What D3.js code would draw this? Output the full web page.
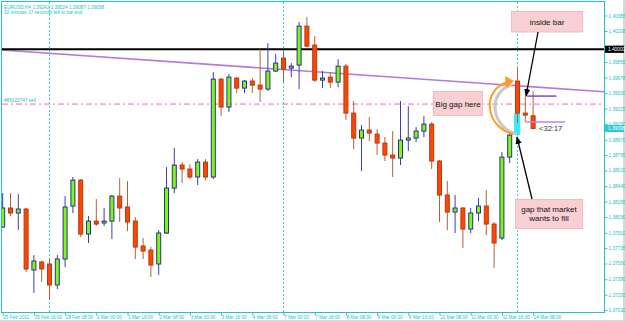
<!DOCTYPE html>
<html><head><meta charset="utf-8">
<script src="https://cdn.jsdelivr.net/npm/d3@7"></script>
<style>html,body{margin:0;padding:0;background:#fff;overflow:hidden}</style>
</head><body>
<svg id="c" width="625" height="322"></svg>
<script>
// ---------- DATA ----------
const symbolInfo = "EURUSD,H4 1.39242 1.39524 1.39087 1.39098";
const timerInfo = "32 minutes 17 seconds left to bar end";
const opens  = [1.37975,1.38192,1.38135,1.38180,1.37486,1.37577,1.37554,1.37315,1.37611,1.38214,
                1.38510,1.37895,1.38043,1.38021,1.38043,1.38328,1.38203,1.38043,1.37759,1.37713,
                1.37554,1.37907,1.38419,1.38681,1.38636,1.38545,1.38715,1.38545,1.39660,1.39342,
                1.39672,1.39558,1.39638,1.39592,1.39547,1.39752,1.39900,1.39786,1.39820,1.40264,
                1.40048,1.39649,1.39683,1.39626,1.39808,1.39273,1.38989,1.39080,1.39034,1.38932,
                1.38795,1.38761,1.38966,1.38989,1.39068,1.39148,1.38727,1.38340,1.38146,1.38192,
                1.37952,1.38135,1.38214,1.38009,1.37850,1.38772,1.39638,1.39273,1.39242];
const highs  = [1.38362,1.38362,1.38351,1.38192,1.37656,1.37588,1.37611,1.37656,1.38328,1.38545,
                1.38522,1.38100,1.38294,1.38192,1.38340,1.38533,1.38499,1.38089,1.37850,1.37747,
                1.37941,1.38658,1.38875,1.38715,1.38693,1.38749,1.38749,1.39740,1.39672,1.39717,
                1.39683,1.39649,1.39672,1.40002,1.40070,1.39945,1.39979,1.39843,1.40310,1.40366,
                1.40150,1.39752,1.39740,1.39888,1.39831,1.39410,1.39137,1.39228,1.39091,1.39000,
                1.39068,1.39410,1.39353,1.39114,1.39239,1.39171,1.38738,1.38499,1.38340,1.38203,
                1.38192,1.38305,1.38396,1.38032,1.38829,1.39034,1.39786,1.39467,1.39524];
const lows   = [1.37964,1.38100,1.37941,1.37463,1.37224,1.37349,1.37144,1.37269,1.37520,1.38135,
                1.37861,1.37793,1.37987,1.37987,1.37839,1.38032,1.37930,1.37611,1.37611,1.37406,
                1.37429,1.37895,1.38362,1.38476,1.38522,1.38453,1.38510,1.38522,1.39239,1.39285,
                1.39501,1.39501,1.39501,1.39399,1.39524,1.39740,1.39626,1.39683,1.39547,1.40025,
                1.39626,1.39558,1.39558,1.39569,1.39194,1.38863,1.38613,1.38954,1.38795,1.38727,
                1.38545,1.38681,1.38841,1.38943,1.39000,1.38636,1.38032,1.37941,1.37907,1.37736,
                1.37907,1.38043,1.37884,1.37508,1.37827,1.38704,1.39159,1.39171,1.39087];
const closes = [1.38192,1.38135,1.38180,1.37497,1.37588,1.37497,1.37315,1.37611,1.38203,1.38510,
                1.37895,1.38043,1.38009,1.38043,1.38328,1.38192,1.38032,1.37747,1.37702,1.37542,
                1.37907,1.38419,1.38681,1.38636,1.38545,1.38715,1.38545,1.39660,1.39342,1.39683,
                1.39558,1.39638,1.39592,1.39547,1.39752,1.39843,1.39774,1.39808,1.40264,1.40036,
                1.39649,1.39672,1.39626,1.39808,1.39273,1.38989,1.39080,1.39046,1.38932,1.38795,
                1.38761,1.38966,1.38989,1.39068,1.39148,1.38727,1.38340,1.38146,1.38192,1.37952,
                1.38135,1.38214,1.38009,1.37793,1.38772,1.39023,1.39273,1.39250,1.39098];
const priceTicks = [1.40385,1.40208,1.40030,1.39855,1.39678,1.39500,1.39325,1.39150,1.38970,1.38795,
                    1.38620,1.38440,1.38265,1.38090,1.37910,1.37735,1.37560,1.37380,1.37205,1.37030];
const timeTickIdx = [0,4,8,12,16,20,24,28,32,36,40,44,48,52,56,60,64,68];
const timeTickLabels = ["25 Feb 2011","25 Feb 16:00","28 Feb 08:00","1 Mar 00:00","1 Mar 16:00",
  "2 Mar 08:00","3 Mar 00:00","3 Mar 16:00","4 Mar 08:00","7 Mar 00:00","7 Mar 16:00","8 Mar 08:00",
  "9 Mar 00:00","9 Mar 16:00","10 Mar 08:00","11 Mar 00:00","11 Mar 16:00","14 Mar 08:00"];
const weekStartIdx = [6,36,66];
const roundLevel = 1.40000;
const sellLevel = 1.39376;
const sellLabel = "#83123747 sell";
const currentPrice = 1.39098;
const trendBars = [0,68];
const trendPrices = [1.39991,1.39572];
const gapZone = [1.39023,1.39273];
const upperMark = 1.39467, lowerMark = 1.39171;
const timerShort = "<32:17";

// ---------- LAYOUT ----------
const L=2, R=604, T=2, B=312;
const svg = d3.select("#c");
const x = d3.scaleLinear().domain([0,68]).range([2.7,533.1]);
const y = d3.scaleLinear().domain([1.37030,1.40385]).range([310,15.5]);
const axisCol = "#22c2ca";
const font = "Liberation Sans, Arial, sans-serif";

svg.append("rect").attr("width",625).attr("height",322).attr("fill","#fff");
svg.append("rect").attr("x",623).attr("y",0).attr("width",2).attr("height",322).attr("fill","#d8d8d8");
svg.append("rect").attr("x",0).attr("y",320).attr("width",625).attr("height",2).attr("fill","#d8d8d8");

const defs = svg.append("defs");
defs.append("clipPath").attr("id","pc").append("rect")
  .attr("x",L).attr("y",T).attr("width",R-L).attr("height",B-T);
defs.append("marker").attr("id","ah").attr("viewBox","0 0 10 10").attr("refX",9).attr("refY",5)
  .attr("markerWidth",6).attr("markerHeight",6).attr("orient","auto")
  .append("path").attr("d","M0,1 L10,5 L0,9 z").attr("fill","#000");
const g = svg.append("g").attr("clip-path","url(#pc)");

// week separators
g.selectAll(".sep").data(weekStartIdx).join("line")
  .attr("x1",d=>x(d)).attr("x2",d=>x(d)).attr("y1",T).attr("y2",B)
  .attr("stroke","#3ccfd6").attr("stroke-width",1).attr("stroke-dasharray","2,2");

// trend line
const tSlope = (trendPrices[1]-trendPrices[0])/(trendBars[1]-trendBars[0]);
const tAt = b => trendPrices[0] + tSlope*(b-trendBars[0]);
const b0 = x.invert(L), b1 = x.invert(R);
g.append("line").attr("x1",L).attr("y1",y(tAt(b0))).attr("x2",R).attr("y2",y(tAt(b1)))
  .attr("stroke","#b676e2").attr("stroke-width",1.6);

// round level line
g.append("line").attr("x1",L).attr("x2",R).attr("y1",y(roundLevel)).attr("y2",y(roundLevel))
  .attr("stroke","#000").attr("stroke-width",2);
// sell line
g.append("line").attr("x1",L).attr("x2",R).attr("y1",y(sellLevel)).attr("y2",y(sellLevel))
  .attr("stroke","#ff5ec4").attr("stroke-width",1).attr("stroke-dasharray","6,3,2,3");

// gap zone
g.append("rect").attr("x",x(66)-3.5).attr("width",6)
  .attr("y",y(gapZone[1])).attr("height",y(gapZone[0])-y(gapZone[1]))
  .attr("fill","#33f0f8");

// candles
const bars = opens.map((o,i)=>({i,o,h:highs[i],l:lows[i],c:closes[i]}));
const cg = g.append("g");
cg.selectAll(".wick").data(bars).join("line")
  .attr("x1",d=>x(d.i)).attr("x2",d=>x(d.i)).attr("y1",d=>y(d.h)).attr("y2",d=>y(d.l))
  .attr("stroke",d=>d.c>=d.o?"#3b3bb2":"#a9643e").attr("stroke-width",1);
cg.selectAll(".body").data(bars).join("rect")
  .attr("x",d=>x(d.i)-2).attr("width",4)
  .attr("y",d=>y(Math.max(d.o,d.c)))
  .attr("height",d=>Math.max(1,Math.abs(y(d.o)-y(d.c))))
  .attr("fill",d=>d.c>=d.o?"#7cfc00":"#ff4500")
  .attr("stroke",d=>d.c>=d.o?"#2a2aa8":"#b83a10").attr("stroke-width",1);

// short marks near current bar
g.append("line").attr("x1",x(67.2)).attr("x2",x(71)).attr("y1",y(upperMark)).attr("y2",y(upperMark))
  .attr("stroke","#7a10c0").attr("stroke-width",1.2);
g.append("line").attr("x1",x(67.1)).attr("x2",x(72.1)).attr("y1",y(lowerMark)).attr("y2",y(lowerMark))
  .attr("stroke","#b888e8").attr("stroke-width",1.4);
g.append("text").attr("x",x(68)+6).attr("y",y(currentPrice)+2.6).text(timerShort)
  .attr("font-family",font).attr("font-size",7.5).attr("fill","#333");

// orange curved arrow
g.append("path").attr("d","M516,134 C492,128 486,92 512,85")
  .attr("fill","none").attr("stroke","#c8c8c8").attr("stroke-width",3);
g.append("path").attr("d","M513,134 C486,128 480,90 508,82")
  .attr("fill","none").attr("stroke","#ff9a1a").attr("stroke-width",2);
g.append("polygon").attr("points","514,81 505,76 506,88").attr("fill","#ff9a1a");

// text boxes
function box(x0,y0,w,h,lines,cx,baselines){
  g.append("rect").attr("x",x0).attr("y",y0).attr("width",w).attr("height",h)
    .attr("fill","#f8cfd2").attr("stroke","#f0bcc2").attr("stroke-width",1);
  lines.forEach((t,k)=>g.append("text").attr("x",cx).attr("y",baselines[k]).text(t)
    .attr("text-anchor","middle").attr("font-family",font).attr("font-size",8).attr("fill","#111"));
}
box(433.5,91.5,49,24,["Big gap here"],458,[106.5]);
box(511.5,11.5,71,20.5,["inside bar"],547,[24.5]);
box(515.5,199.5,67,29,["gap that market","wants to fill"],549,[212,221]);

// black arrows
g.append("line").attr("x1",538).attr("y1",32).attr("x2",526).attr("y2",96)
  .attr("stroke","#000").attr("stroke-width",1.3).attr("marker-end","url(#ah)");
g.append("line").attr("x1",532).attr("y1",199).attr("x2",517).attr("y2",137)
  .attr("stroke","#000").attr("stroke-width",1.3).attr("marker-end","url(#ah)");

// info texts
const tiny = 4.7;
g.append("text").attr("x",4).attr("y",8.5).text(symbolInfo)
  .attr("font-family",font).attr("font-size",tiny).attr("fill",axisCol);
g.append("text").attr("x",4).attr("y",14).text(timerInfo)
  .attr("font-family",font).attr("font-size",tiny).attr("fill",axisCol);
g.append("text").attr("x",4).attr("y",y(sellLevel)-2.3).text(sellLabel)
  .attr("font-family",font).attr("font-size",tiny).attr("fill",axisCol);

// frame
svg.append("rect").attr("x",L-0.5).attr("y",T-0.5).attr("width",R-L+1).attr("height",B-T+1)
  .attr("fill","none").attr("stroke",axisCol).attr("stroke-width",1);

// price axis
const ya = svg.append("g").attr("transform",`translate(${R+0.5},0)`)
  .call(d3.axisRight(y).tickValues(priceTicks).tickFormat(d3.format(".5f")).tickSize(3));
ya.select(".domain").remove();
ya.selectAll("line").attr("stroke",axisCol);
ya.selectAll("text").attr("x",4).attr("font-family",font).attr("font-size",tiny).attr("fill",axisCol);

// time axis
const xa = svg.append("g").attr("transform",`translate(0,${B+0.5})`)
  .call(d3.axisBottom(x).tickValues(timeTickIdx).tickFormat((d,i)=>timeTickLabels[i]).tickSize(3));
xa.select(".domain").remove();
xa.selectAll("line").attr("stroke",axisCol);
xa.selectAll("text").attr("text-anchor","start").attr("x",0).attr("y",6.3).attr("dy",0)
  .attr("font-family",font).attr("font-size",tiny).attr("fill",axisCol);

// price labels on the axis
function tag(p,txt,bg,fg){
  const yy=y(p);
  svg.append("rect").attr("x",R+1).attr("y",yy-3.6).attr("width",19).attr("height",7.2).attr("fill",bg);
  svg.append("text").attr("x",R+4).attr("y",yy+1.7).text(txt)
    .attr("font-family",font).attr("font-size",tiny).attr("fill",fg);
}
tag(roundLevel,d3.format(".5f")(roundLevel),"#000","#fff");
tag(currentPrice,d3.format(".5f")(currentPrice),"#2ccad2","#fff");
</script>
</body></html>
